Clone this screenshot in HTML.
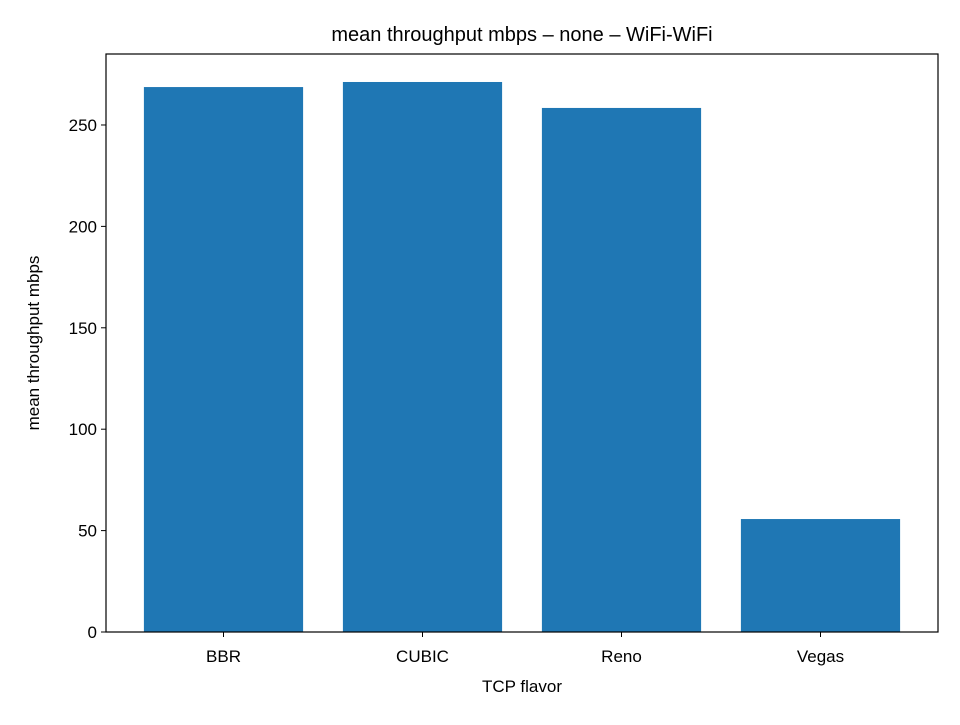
<!DOCTYPE html>
<html><head><meta charset="utf-8"><style>
body{margin:0;background:#fff;}
svg text{font-family:"Liberation Sans","DejaVu Sans",sans-serif;fill:#000;}
</style></head><body>
<svg id="chart" width="960" height="720" xmlns="http://www.w3.org/2000/svg">
<rect width="960" height="720" fill="#fff"/>
<text x="522" y="41" font-size="20" text-anchor="middle">mean throughput mbps – none – WiFi-WiFi</text>
<text x="522" y="692" font-size="17" text-anchor="middle">TCP flavor</text>
<text transform="translate(39,343) rotate(-90)" font-size="17" text-anchor="middle">mean throughput mbps</text>
<g id="bars"></g><g id="ticks"></g>
<rect x="106" y="54" width="832" height="578" fill="none" stroke="#000" stroke-width="1.2"/>
</svg>
<script>
const categories = ["BBR","CUBIC","Reno","Vegas"];
const values = [268.7, 271.2, 258.4, 55.7];
const yTicks = [0,50,100,150,200,250];
const L=106,T=54,B=632,yMax=285,step=199,x0c=223.5;
const ns="http://www.w3.org/2000/svg";
function sx(v){return x0c+v*step;}
function sy(v){return B-v/yMax*(B-T);}
const bars=document.getElementById('bars'),ticks=document.getElementById('ticks');
function mk(tag,attrs,parent,text){const e=document.createElementNS(ns,tag);for(const k in attrs)e.setAttribute(k,attrs[k]);if(text!==undefined)e.textContent=text;parent.appendChild(e);return e;}
categories.forEach((c,i)=>{
  const a=sx(i-0.4),b=sx(i+0.4);
  const r=mk('rect',{x:a,y:sy(values[i]),width:b-a,height:B-sy(values[i]),fill:'#1f77b4'},bars);
  
  
  const l=mk('line',{x1:sx(i),x2:sx(i),y1:B,y2:B+5,stroke:'#000','stroke-width':1},ticks);
  
  
  const t=mk('text',{x:sx(i),y:B+30,'font-size':17,'text-anchor':'middle'},ticks,c);
  
  
});
yTicks.forEach(v=>{
  const l=mk('line',{x1:L-5,x2:L,y1:sy(v),y2:sy(v),stroke:'#000','stroke-width':1},ticks);
  
  
  const t=mk('text',{x:L-9,y:sy(v)+6,'font-size':17,'text-anchor':'end'},ticks,String(v));
  
  
});
</script>
</body></html>
